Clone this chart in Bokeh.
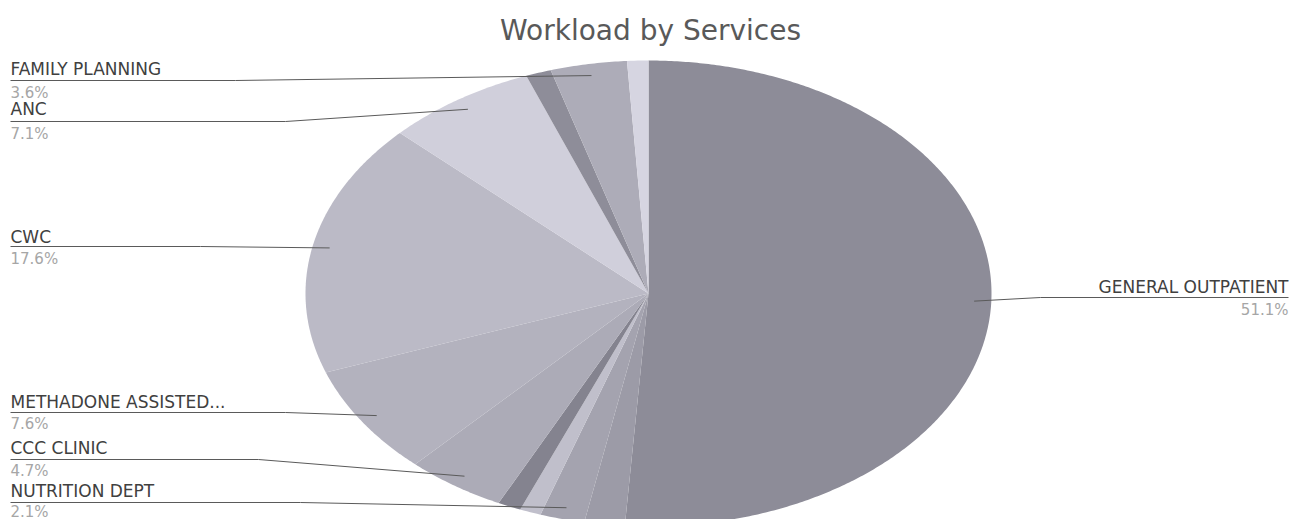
import numpy as np
from bokeh.plotting import figure
from bokeh.models import Range1d, ColumnDataSource
from bokeh.core.properties import value
from bokeh.embed import file_html
from bokeh.resources import INLINE

# ---- data (clockwise from 12 o'clock) ----
services = ["GENERAL OUTPATIENT", "", "NUTRITION DEPT", "", "", "CCC CLINIC",
            "METHADONE ASSISTED...", "CWC", "ANC", "", "FAMILY PLANNING", ""]
shares = [51.1, 1.9, 2.1, 1.0, 1.1, 4.7, 7.6, 17.6, 7.1, 1.2, 3.6, 1.0]
pct_labels = ["51.1%", "", "2.1%", "", "", "4.7%", "7.6%", "17.6%", "7.1%", "", "3.6%", ""]
colors = ["#8d8c98", "#9c9ba7", "#a4a3af", "#c0bfcb", "#84838f", "#acabb7",
          "#b3b2be", "#bbbac6", "#d0cfdb", "#8e8d99", "#adacb8", "#d6d5e1"]

# ---- layout ----
W, H = 1305, 519
CX, CY, RX, RY = 648, 293, 343, 233
FONT = "DejaVu Sans"
label_layout = {
    "FAMILY PLANNING":       dict(x=10, ny=68,  ly=80,  py=92,  brk=235, side="left"),
    "ANC":                   dict(x=10, ny=108, ly=121, py=133, brk=285, side="left"),
    "CWC":                   dict(x=10, ny=236, ly=246, py=258, brk=200, side="left"),
    "METHADONE ASSISTED...": dict(x=10, ny=401, ly=412, py=423, brk=285, side="left"),
    "CCC CLINIC":            dict(x=10, ny=447, ly=459, py=470, brk=258, side="left"),
    "NUTRITION DEPT":        dict(x=10, ny=490, ly=502, py=511, brk=300, side="left"),
    "GENERAL OUTPATIENT":    dict(x=1288, ny=286, ly=297, py=309, brk=1040, side="right"),
}

p = figure(width=W, height=H, x_range=Range1d(0, W), y_range=Range1d(H, 0),
           output_backend="svg", toolbar_location=None, min_border=0)
p.axis.visible = False
p.grid.visible = False
p.outline_line_color = None
p.background_fill_color = "white"
p.border_fill_color = "white"

# slices as elliptical polygons
vals = np.array(shares, dtype=float)
frac = vals / vals.sum()
cum = np.concatenate([[0], np.cumsum(frac)])
xs, ys = [], []
mids = []
for i in range(len(vals)):
    a0, a1 = cum[i] * 2 * np.pi, cum[i + 1] * 2 * np.pi
    t = np.linspace(a0, a1, max(4, int((a1 - a0) * 120)))
    xs.append([CX] + list(CX + RX * np.sin(t)) + [CX])
    ys.append([CY] + list(CY - RY * np.cos(t)) + [CY])
    mids.append((a0 + a1) / 2)
p.patches(xs=xs, ys=ys, fill_color=colors, line_color=None)

# labels and leader lines
lx, ly = [], []
nx, ny, ntext, nalign = [], [], [], []
px_, py_, ptext = [], [], []
for i, name in enumerate(services):
    if not name:
        continue
    L = label_layout[name]
    ex = CX + 0.95 * RX * np.sin(mids[i])
    ey = CY - 0.95 * RY * np.cos(mids[i])
    lx.append([L["x"], L["brk"], ex])
    ly.append([L["ly"], L["ly"], ey])
    nx.append(L["x"]); ny.append(L["ny"]); ntext.append(name)
    px_.append(L["x"]); py_.append(L["py"]); ptext.append(pct_labels[i])
    nalign.append("left" if L["side"] == "left" else "right")

p.multi_line(xs=lx, ys=ly, line_color="#5a5a5a", line_width=1)

src_n = ColumnDataSource(dict(x=nx, y=ny, t=ntext, a=nalign))
src_p = ColumnDataSource(dict(x=px_, y=py_, t=ptext, a=nalign))
p.text(x="x", y="y", text="t", text_align="a", source=src_n, text_baseline="middle",
       text_font=value(FONT), text_font_size="17px", text_color="#404040")
p.text(x="x", y="y", text="t", text_align="a", source=src_p, text_baseline="middle",
       text_font=value(FONT), text_font_size="15px", text_color="#a6a6a6")

# title
p.text(x=[650], y=[30], text=["Workload by Services"], text_align="center",
       text_baseline="middle", text_font=value(FONT), text_font_size="28px",
       text_color="#595959")

open("out.html", "w").write(file_html(p, INLINE))
